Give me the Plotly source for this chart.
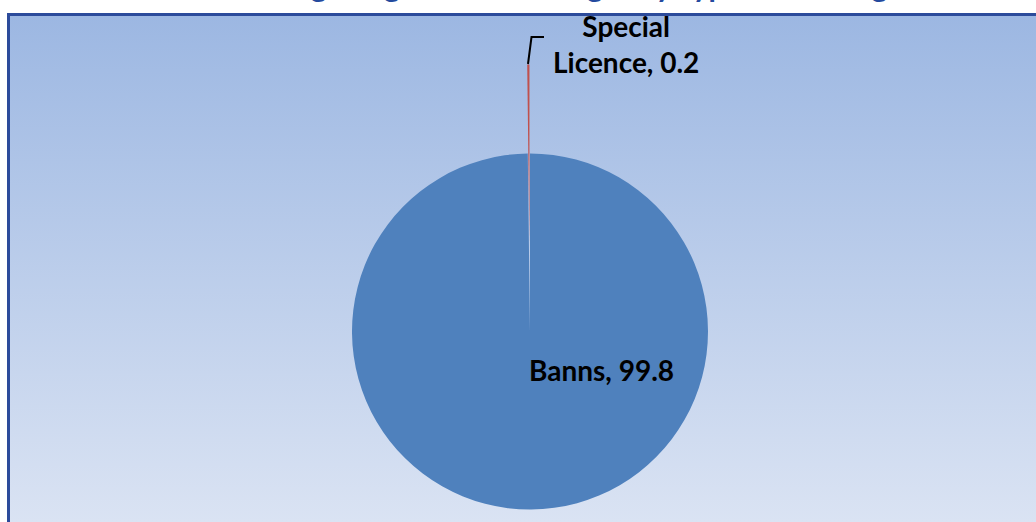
import math
import plotly.graph_objects as go

# Marriage types and their share of registrations (%)
labels = ["Banns", "Special Licence"]
values = [99.8, 0.2]
slice_colors = ["#4f81bd", "#c0504d"]
explode = 0.5  # the small slice is pulled out by half a radius

title_text = "Percentage Registered Marriages by Type of Marriage"

W, H = 1036, 522
cx, cy, radius = 530, 331.5, 178
CLEAR = "rgba(0,0,0,0)"
FONT = "Lato"

total = sum(values)
half_angle = math.pi * values[1] / total
# the exploded slice sits just left of 12 o'clock; shift it along its bisector
dx = -explode * radius * math.sin(half_angle)
dy = -explode * radius * math.cos(half_angle)


def pie_domain(x0, y0):
    return dict(
        x=[(x0 - radius) / W, (x0 + radius) / W],
        y=[1 - (y0 + radius) / H, 1 - (y0 - radius) / H],
    )


fig = go.Figure()

# chart-area background with a vertical gradient
fig.add_trace(go.Scatter(
    x=[8, W + 20, W + 20, 8, 8], y=[13, 13, H + 20, H + 20, 13],
    mode="lines", fill="toself", line=dict(width=0),
    fillgradient=dict(type="vertical", start=13, stop=H,
                      colorscale=[[0, "#9cb7e2"], [1, "#dae3f3"]]),
    hoverinfo="skip", showlegend=False,
))

common = dict(labels=labels, values=values, sort=False, direction="clockwise",
              rotation=0, textinfo="none", hoverinfo="skip", showlegend=False)

# main pie, leaving the gap where the exploded slice came from
fig.add_trace(go.Pie(
    **common,
    marker=dict(colors=[slice_colors[0], CLEAR], line=dict(width=0)),
    domain=pie_domain(cx, cy),
))
# the exploded slice
fig.add_trace(go.Pie(
    **common,
    marker=dict(colors=[CLEAR, slice_colors[1]], line=dict(width=0)),
    domain=pie_domain(cx + dx, cy + dy),
))

label_font = dict(family=FONT, size=28, color="#000000", weight="bold")

# data labels
fig.add_annotation(x=601, y=370, xref="x", yref="y", showarrow=False,
                   text=f"{labels[0]}, {values[0]}", font=label_font,
                   xanchor="center", yanchor="middle")
fig.add_annotation(x=626, y=44, xref="x", yref="y", showarrow=False,
                   text=labels[1].replace(" ", "<br>") + f", {values[1]}",
                   font=label_font, align="center",
                   xanchor="center", yanchor="middle")

# leader line for the small slice
fig.add_shape(type="path", path="M 528 64 L 531.5 37 L 544 37", xref="x", yref="y",
              line=dict(color="#000000", width=2), layer="above")

# chart-area frame
fig.add_shape(type="rect", x0=8.5, y0=14.5, x1=W + 30, y1=H + 30, xref="x", yref="y",
              line=dict(color="#2c4b9b", width=3), fillcolor=CLEAR, layer="above")

fig.update_layout(
    width=W, height=H,
    margin=dict(l=0, r=0, t=0, b=0),
    paper_bgcolor="white", plot_bgcolor="white",
    title=dict(text=title_text, x=548 / W, xanchor="center", xref="container",
               y=1, yanchor="bottom", yref="container", pad=dict(b=3),
               font=dict(family=FONT, size=30, color="#244a9e", weight="bold")),
    xaxis=dict(range=[0, W], visible=False, fixedrange=True),
    yaxis=dict(range=[H, 0], visible=False, fixedrange=True),
)

fig.write_html("out.html")
